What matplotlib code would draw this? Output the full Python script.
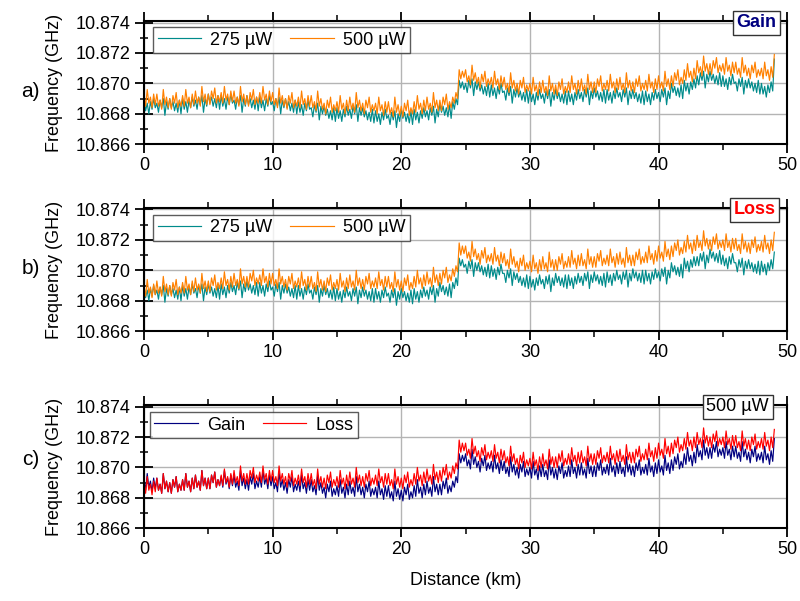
import numpy as np
import matplotlib
matplotlib.use('Agg')
import matplotlib.pyplot as plt
from matplotlib.ticker import MultipleLocator, FormatStrFormatter

plt.rcParams['font.family'] = ['Liberation Sans', 'DejaVu Sans']

# distance samples every 0.125 km, 0 .. 49 km
distance_km = np.linspace(0, 49, 393)

# traces in MHz above 10.866 GHz (8 samples per km, one km per row)
gain_275 = [
    2.9, 2.2, 2.7, 2.0, 2.8, 2.3, 3.0, 2.4,  2.7, 2.1, 2.9, 2.4, 3.0, 1.9, 2.8, 2.3,
    3.0, 2.4, 2.8, 2.2, 2.7, 2.1, 2.9, 2.0,  3.0, 2.3, 2.8, 2.1, 2.9, 2.4, 3.1, 2.5,
    2.9, 2.3, 3.1, 2.6, 3.2, 2.1, 3.0, 2.5,  3.3, 2.7, 3.1, 2.5, 3.0, 2.4, 3.2, 2.3,
    3.2, 2.5, 3.0, 2.3, 3.1, 2.6, 3.3, 2.7,  2.9, 2.3, 3.1, 2.6, 3.2, 2.1, 3.0, 2.5,
    3.2, 2.6, 3.0, 2.4, 2.9, 2.3, 3.1, 2.2,  3.1, 2.4, 2.9, 2.2, 3.0, 2.5, 3.2, 2.6,
    2.8, 2.2, 3.0, 2.5, 3.1, 2.0, 2.9, 2.4,  3.0, 2.4, 2.8, 2.2, 2.7, 2.1, 2.9, 2.0,
    2.8, 2.1, 2.6, 1.9, 2.7, 2.2, 2.9, 2.3,  2.4, 1.8, 2.6, 2.1, 2.7, 1.6, 2.5, 2.0,
    2.5, 1.9, 2.3, 1.7, 2.2, 1.6, 2.4, 1.5,  2.4, 1.7, 2.2, 1.5, 2.3, 1.8, 2.5, 1.9,
    2.3, 1.7, 2.5, 2.0, 2.6, 1.5, 2.4, 1.9,  2.4, 1.8, 2.2, 1.6, 2.1, 1.5, 2.3, 1.4,
    2.2, 1.5, 2.0, 1.3, 2.1, 1.6, 2.3, 1.7,  1.9, 1.3, 2.1, 1.6, 2.2, 1.1, 2.0, 1.5,
    2.3, 1.7, 2.1, 1.5, 2.0, 1.4, 2.2, 1.3,  2.3, 1.6, 2.1, 1.4, 2.2, 1.7, 2.4, 1.8,
    2.2, 1.6, 2.4, 1.9, 2.5, 1.4, 2.3, 1.8,  2.7, 2.1, 2.5, 1.9, 2.4, 1.8, 2.6, 1.7,
    2.8, 2.3, 3.0, 2.6, 4.2, 3.7, 4.1, 3.6,  4.0, 3.4, 4.2, 3.7, 4.3, 3.2, 4.1, 3.6,
    4.1, 3.5, 3.9, 3.3, 3.8, 3.2, 4.0, 3.1,  3.9, 3.2, 3.7, 3.0, 3.8, 3.3, 4.0, 3.4,
    3.5, 2.9, 3.7, 3.2, 3.8, 2.7, 3.6, 3.1,  3.7, 3.1, 3.5, 2.9, 3.4, 2.8, 3.6, 2.7,
    3.5, 2.8, 3.3, 2.6, 3.4, 2.9, 3.6, 3.0,  3.3, 2.7, 3.5, 3.0, 3.6, 2.5, 3.4, 2.9,
    3.6, 3.0, 3.4, 2.8, 3.3, 2.7, 3.5, 2.6,  3.5, 2.8, 3.3, 2.6, 3.4, 2.9, 3.6, 3.0,
    3.4, 2.8, 3.6, 3.1, 3.7, 2.6, 3.5, 3.0,  3.7, 3.1, 3.5, 2.9, 3.4, 2.8, 3.6, 2.7,
    3.6, 2.9, 3.4, 2.7, 3.5, 3.0, 3.7, 3.1,  3.4, 2.8, 3.6, 3.1, 3.7, 2.6, 3.5, 3.0,
    3.6, 3.0, 3.4, 2.8, 3.3, 2.7, 3.5, 2.6,  3.5, 2.8, 3.3, 2.6, 3.4, 2.9, 3.6, 3.0,
    3.4, 2.8, 3.6, 3.1, 3.7, 2.6, 3.5, 3.0,  4.0, 3.4, 3.8, 3.2, 3.7, 3.1, 3.9, 3.0,
    4.2, 3.5, 4.0, 3.3, 4.1, 3.6, 4.3, 3.7,  4.5, 3.9, 4.7, 4.2, 4.8, 3.7, 4.6, 4.1,
    4.8, 4.2, 4.6, 4.0, 4.5, 3.9, 4.7, 3.8,  4.5, 3.8, 4.3, 3.6, 4.4, 3.9, 4.6, 4.0,
    4.1, 3.5, 4.3, 3.8, 4.4, 3.3, 4.2, 3.7,  4.3, 3.7, 4.1, 3.5, 4.0, 3.4, 4.2, 3.3,
    4.0, 3.3, 3.8, 3.1, 3.9, 3.4, 4.1, 3.5,
    5.6,
]
gain_500 = [
    3.2, 2.5, 3.6, 2.7, 3.1, 2.4, 3.3, 2.6,  3.3, 2.5, 2.9, 2.3, 3.6, 2.6, 3.1, 2.4,
    3.0, 2.3, 3.2, 2.7, 3.4, 2.4, 2.9, 2.5,  3.2, 2.5, 3.6, 2.7, 3.1, 2.4, 3.3, 2.6,
    3.5, 2.7, 3.1, 2.5, 3.8, 2.8, 3.3, 2.6,  3.3, 2.6, 3.5, 3.0, 3.7, 2.7, 3.2, 2.8,
    3.4, 2.7, 3.8, 2.9, 3.3, 2.6, 3.5, 2.8,  3.5, 2.7, 3.1, 2.5, 3.8, 2.8, 3.3, 2.6,
    3.2, 2.5, 3.4, 2.9, 3.6, 2.6, 3.1, 2.7,  3.4, 2.7, 3.8, 2.9, 3.3, 2.6, 3.5, 2.8,
    3.4, 2.6, 3.0, 2.4, 3.7, 2.7, 3.2, 2.5,  3.0, 2.3, 3.2, 2.7, 3.4, 2.4, 2.9, 2.5,
    3.1, 2.4, 3.5, 2.6, 3.0, 2.3, 3.2, 2.5,  3.2, 2.4, 2.8, 2.2, 3.5, 2.5, 3.0, 2.3,
    2.7, 2.0, 2.9, 2.4, 3.1, 2.1, 2.6, 2.2,  2.8, 2.1, 3.2, 2.3, 2.7, 2.0, 2.9, 2.2,
    3.1, 2.3, 2.7, 2.1, 3.4, 2.4, 2.9, 2.2,  2.7, 2.0, 2.9, 2.4, 3.1, 2.1, 2.6, 2.2,
    2.7, 2.0, 3.1, 2.2, 2.6, 1.9, 2.8, 2.1,  2.8, 2.0, 2.4, 1.8, 3.1, 2.1, 2.6, 1.9,
    2.5, 1.8, 2.7, 2.2, 2.9, 1.9, 2.4, 2.0,  2.8, 2.1, 3.2, 2.3, 2.7, 2.0, 2.9, 2.2,
    3.1, 2.3, 2.7, 2.1, 3.4, 2.4, 2.9, 2.2,  2.9, 2.2, 3.1, 2.6, 3.3, 2.3, 2.8, 2.4,
    3.1, 2.7, 3.4, 3.0, 4.9, 4.3, 4.8, 4.4,  4.9, 4.1, 4.5, 3.9, 5.2, 4.2, 4.7, 4.0,
    4.4, 3.7, 4.6, 4.1, 4.8, 3.8, 4.3, 3.9,  4.4, 3.7, 4.8, 3.9, 4.3, 3.6, 4.5, 3.8,
    4.4, 3.6, 4.0, 3.4, 4.7, 3.7, 4.2, 3.5,  4.0, 3.3, 4.2, 3.7, 4.4, 3.4, 3.9, 3.5,
    4.0, 3.3, 4.4, 3.5, 3.9, 3.2, 4.1, 3.4,  4.2, 3.4, 3.8, 3.2, 4.5, 3.5, 4.0, 3.3,
    3.9, 3.2, 4.1, 3.6, 4.3, 3.3, 3.8, 3.4,  4.1, 3.4, 4.5, 3.6, 4.0, 3.3, 4.2, 3.5,
    4.3, 3.5, 3.9, 3.3, 4.6, 3.6, 4.1, 3.4,  4.1, 3.4, 4.3, 3.8, 4.5, 3.5, 4.0, 3.6,
    4.2, 3.5, 4.6, 3.7, 4.1, 3.4, 4.3, 3.6,  4.4, 3.6, 4.0, 3.4, 4.7, 3.7, 4.2, 3.5,
    4.1, 3.4, 4.3, 3.8, 4.5, 3.5, 4.0, 3.6,  4.2, 3.5, 4.6, 3.7, 4.1, 3.4, 4.3, 3.6,
    4.5, 3.7, 4.1, 3.5, 4.8, 3.8, 4.3, 3.6,  4.5, 3.8, 4.7, 4.2, 4.9, 3.9, 4.4, 4.0,
    4.9, 4.2, 5.3, 4.4, 4.8, 4.1, 5.0, 4.3,  5.5, 4.7, 5.1, 4.5, 5.8, 4.8, 5.3, 4.6,
    5.3, 4.6, 5.5, 5.0, 5.7, 4.7, 5.2, 4.8,  5.3, 4.6, 5.7, 4.8, 5.2, 4.5, 5.4, 4.7,
    5.4, 4.6, 5.0, 4.4, 5.7, 4.7, 5.2, 4.5,  5.0, 4.3, 5.2, 4.7, 5.4, 4.4, 4.9, 4.5,
    5.0, 4.3, 5.4, 4.5, 4.9, 4.2, 5.1, 4.4,
    5.9,
]
loss_275 = [
    2.9, 2.2, 2.7, 2.0, 2.8, 2.3, 3.0, 2.4,  2.7, 2.1, 2.9, 2.4, 3.0, 1.9, 2.8, 2.3,
    3.0, 2.4, 2.8, 2.2, 2.7, 2.1, 2.9, 2.0,  3.0, 2.3, 2.8, 2.1, 2.9, 2.4, 3.1, 2.5,
    2.8, 2.2, 3.0, 2.5, 3.1, 2.0, 2.9, 2.4,  3.1, 2.5, 2.9, 2.3, 2.8, 2.2, 3.0, 2.1,
    3.1, 2.4, 2.9, 2.2, 3.0, 2.5, 3.2, 2.6,  3.0, 2.4, 3.2, 2.7, 3.3, 2.2, 3.1, 2.6,
    3.3, 2.7, 3.1, 2.5, 3.0, 2.4, 3.2, 2.3,  3.2, 2.5, 3.0, 2.3, 3.1, 2.6, 3.3, 2.7,
    2.9, 2.3, 3.1, 2.6, 3.2, 2.1, 3.0, 2.5,  3.1, 2.5, 2.9, 2.3, 2.8, 2.2, 3.0, 2.1,
    3.0, 2.3, 2.8, 2.1, 2.9, 2.4, 3.1, 2.5,  2.7, 2.1, 2.9, 2.4, 3.0, 1.9, 2.8, 2.3,
    3.0, 2.4, 2.8, 2.2, 2.7, 2.1, 2.9, 2.0,  2.8, 2.1, 2.6, 1.9, 2.7, 2.2, 2.9, 2.3,
    2.6, 2.0, 2.8, 2.3, 2.9, 1.8, 2.7, 2.2,  2.9, 2.3, 2.7, 2.1, 2.6, 2.0, 2.8, 1.9,
    2.8, 2.1, 2.6, 1.9, 2.7, 2.2, 2.9, 2.3,  2.5, 1.9, 2.7, 2.2, 2.8, 1.7, 2.6, 2.1,
    2.8, 2.2, 2.6, 2.0, 2.5, 1.9, 2.7, 1.8,  2.8, 2.1, 2.6, 1.9, 2.7, 2.2, 2.9, 2.3,
    2.7, 2.1, 2.9, 2.4, 3.0, 1.9, 2.8, 2.3,  3.2, 2.6, 3.0, 2.4, 2.9, 2.3, 3.1, 2.2,
    3.2, 2.8, 3.5, 3.0, 4.8, 4.3, 4.7, 4.2,  4.4, 3.8, 4.6, 4.1, 4.7, 3.6, 4.5, 4.0,
    4.5, 3.9, 4.3, 3.7, 4.2, 3.6, 4.4, 3.5,  4.3, 3.6, 4.1, 3.4, 4.2, 3.7, 4.4, 3.8,
    3.8, 3.2, 4.0, 3.5, 4.1, 3.0, 3.9, 3.4,  3.8, 3.2, 3.6, 3.0, 3.5, 2.9, 3.7, 2.8,
    3.6, 2.9, 3.4, 2.7, 3.5, 3.0, 3.7, 3.1,  3.4, 2.8, 3.6, 3.1, 3.7, 2.6, 3.5, 3.0,
    3.8, 3.2, 3.6, 3.0, 3.5, 2.9, 3.7, 2.8,  3.7, 3.0, 3.5, 2.8, 3.6, 3.1, 3.8, 3.2,
    3.6, 3.0, 3.8, 3.3, 3.9, 2.8, 3.7, 3.2,  3.9, 3.3, 3.7, 3.1, 3.6, 3.0, 3.8, 2.9,
    3.9, 3.2, 3.7, 3.0, 3.8, 3.3, 4.0, 3.4,  3.7, 3.1, 3.9, 3.4, 4.0, 2.9, 3.8, 3.3,
    4.1, 3.5, 3.9, 3.3, 3.8, 3.2, 4.0, 3.1,  4.0, 3.3, 3.8, 3.1, 3.9, 3.4, 4.1, 3.5,
    3.9, 3.3, 4.1, 3.6, 4.2, 3.1, 4.0, 3.5,  4.5, 3.9, 4.3, 3.7, 4.2, 3.6, 4.4, 3.5,
    4.8, 4.1, 4.6, 3.9, 4.7, 4.2, 4.9, 4.3,  4.9, 4.3, 5.1, 4.6, 5.2, 4.1, 5.0, 4.5,
    5.4, 4.8, 5.2, 4.6, 5.1, 4.5, 5.3, 4.4,  5.0, 4.3, 4.8, 4.1, 4.9, 4.4, 5.1, 4.5,
    4.5, 3.9, 4.7, 4.2, 4.8, 3.7, 4.6, 4.1,  4.7, 4.1, 4.5, 3.9, 4.4, 3.8, 4.6, 3.7,
    4.6, 3.9, 4.4, 3.7, 4.5, 4.0, 4.7, 4.1,
    5.2,
]
loss_500 = [
    3.0, 2.3, 3.4, 2.5, 2.9, 2.2, 3.1, 2.4,  3.3, 2.5, 2.9, 2.3, 3.6, 2.6, 3.1, 2.4,
    3.0, 2.3, 3.2, 2.7, 3.4, 2.4, 2.9, 2.5,  3.2, 2.5, 3.6, 2.7, 3.1, 2.4, 3.3, 2.6,
    3.5, 2.7, 3.1, 2.5, 3.8, 2.8, 3.3, 2.6,  3.3, 2.6, 3.5, 3.0, 3.7, 2.7, 3.2, 2.8,
    3.5, 2.8, 3.9, 3.0, 3.4, 2.7, 3.6, 2.9,  3.8, 3.0, 3.4, 2.8, 4.1, 3.1, 3.6, 2.9,
    3.6, 2.9, 3.8, 3.3, 4.0, 3.0, 3.5, 3.1,  3.7, 3.0, 4.1, 3.2, 3.6, 2.9, 3.8, 3.1,
    3.8, 3.0, 3.4, 2.8, 4.1, 3.1, 3.6, 2.9,  3.4, 2.7, 3.6, 3.1, 3.8, 2.8, 3.3, 2.9,
    3.5, 2.8, 3.9, 3.0, 3.4, 2.7, 3.6, 2.9,  3.6, 2.8, 3.2, 2.6, 3.9, 2.9, 3.4, 2.7,
    3.3, 2.6, 3.5, 3.0, 3.7, 2.7, 3.2, 2.8,  3.4, 2.7, 3.8, 2.9, 3.3, 2.6, 3.5, 2.8,
    3.7, 2.9, 3.3, 2.7, 4.0, 3.0, 3.5, 2.8,  3.4, 2.7, 3.6, 3.1, 3.8, 2.8, 3.3, 2.9,
    3.5, 2.8, 3.9, 3.0, 3.4, 2.7, 3.6, 2.9,  3.6, 2.8, 3.2, 2.6, 3.9, 2.9, 3.4, 2.7,
    3.3, 2.6, 3.5, 3.0, 3.7, 2.7, 3.2, 2.8,  3.6, 2.9, 4.0, 3.1, 3.5, 2.8, 3.7, 3.0,
    3.9, 3.1, 3.5, 2.9, 4.2, 3.2, 3.7, 3.0,  3.8, 3.1, 4.0, 3.5, 4.2, 3.2, 3.7, 3.3,
    4.1, 3.6, 4.3, 3.9, 5.8, 5.0, 5.6, 5.1,  5.6, 4.8, 5.2, 4.6, 5.9, 4.9, 5.4, 4.7,
    5.1, 4.4, 5.3, 4.8, 5.5, 4.5, 5.0, 4.6,  5.1, 4.4, 5.5, 4.6, 5.0, 4.3, 5.2, 4.5,
    5.1, 4.3, 4.7, 4.1, 5.4, 4.4, 4.9, 4.2,  4.6, 3.9, 4.8, 4.3, 5.0, 4.0, 4.5, 4.1,
    4.6, 3.9, 5.0, 4.1, 4.5, 3.8, 4.7, 4.0,  4.9, 4.1, 4.5, 3.9, 5.2, 4.2, 4.7, 4.0,
    4.7, 4.0, 4.9, 4.4, 5.1, 4.1, 4.6, 4.2,  4.9, 4.2, 5.3, 4.4, 4.8, 4.1, 5.0, 4.3,
    5.1, 4.3, 4.7, 4.1, 5.4, 4.4, 4.9, 4.2,  4.9, 4.2, 5.1, 4.6, 5.3, 4.3, 4.8, 4.4,
    5.0, 4.3, 5.4, 4.5, 4.9, 4.2, 5.1, 4.4,  5.2, 4.4, 4.8, 4.2, 5.5, 4.5, 5.0, 4.3,
    5.0, 4.3, 5.2, 4.7, 5.4, 4.4, 4.9, 4.5,  5.2, 4.5, 5.6, 4.7, 5.1, 4.4, 5.3, 4.6,
    5.6, 4.8, 5.2, 4.6, 5.9, 4.9, 5.4, 4.7,  5.6, 4.9, 5.8, 5.3, 6.0, 5.0, 5.5, 5.1,
    5.9, 5.2, 6.3, 5.4, 5.8, 5.1, 6.0, 5.3,  6.3, 5.5, 5.9, 5.3, 6.6, 5.6, 6.1, 5.4,
    6.0, 5.3, 6.2, 5.7, 6.4, 5.4, 5.9, 5.5,  6.0, 5.3, 6.4, 5.5, 5.9, 5.2, 6.1, 5.4,
    6.1, 5.3, 5.7, 5.1, 6.4, 5.4, 5.9, 5.2,  5.8, 5.1, 6.0, 5.5, 6.2, 5.2, 5.7, 5.3,
    5.9, 5.2, 6.3, 5.4, 5.8, 5.1, 6.0, 5.3,
    6.5,
]

BASE_GHZ = 10.866

def ghz(mhz_list):
    return BASE_GHZ + np.asarray(mhz_list) / 1000.0

panels = [
    # (letter, [(label, values, color)], corner text, corner color, corner bold, legend anchor)
    ('a)', [('275 \u00b5W', gain_275, '#008b8b'), ('500 \u00b5W', gain_500, '#ff8000')],
     'Gain', '#000080', True, (0.014, 0.951)),
    ('b)', [('275 \u00b5W', loss_275, '#008b8b'), ('500 \u00b5W', loss_500, '#ff8000')],
     'Loss', '#ff0000', True, (0.014, 0.943)),
    ('c)', [('Gain', gain_500, '#000080'), ('Loss', loss_500, '#ff0000')],
     '500 \u00b5W', 'black', False, (0.009, 0.943)),
]
corner_x = [0.952, 0.949, 0.923]
letter_y = [0.847, 0.554, 0.235]

fig = plt.figure(figsize=(8.0, 6.01), dpi=100)
ax_bottoms = [0.760, 0.449, 0.121]
axes = []
for i, (letter, series, corner, ccol, cbold, leg_anchor) in enumerate(panels):
    ax = fig.add_axes([0.18, ax_bottoms[i], 0.804, 0.205])
    axes.append(ax)
    for label, vals, col in series:
        ax.plot(distance_km, ghz(vals), color=col, lw=0.85, label=label)
    ax.set_xlim(0, 50)
    ax.set_ylim(10.866, 10.8741)
    ax.xaxis.set_major_locator(MultipleLocator(10))
    ax.xaxis.set_minor_locator(MultipleLocator(5))
    ax.yaxis.set_major_locator(MultipleLocator(0.002))
    ax.yaxis.set_minor_locator(MultipleLocator(0.001))
    ax.yaxis.set_major_formatter(FormatStrFormatter('%.3f'))
    ax.grid(True, which='major', color='#b4b4b4', lw=1.0)
    ax.set_axisbelow(True)
    ax.tick_params(axis='x', which='both', direction='out', top=True, labelsize=13, pad=3)
    ax.tick_params(axis='x', which='major', length=6.5, width=1.3)
    ax.tick_params(axis='x', which='minor', length=4.5, width=1.1)
    ax.tick_params(axis='y', which='both', direction='inout', labelsize=13, pad=3)
    ax.tick_params(axis='y', which='major', length=13, width=1.3)
    ax.tick_params(axis='y', which='minor', length=6, width=1.1)
    for sp in ax.spines.values():
        sp.set_linewidth(1.5)
    ax.set_ylabel('Frequency (GHz)', fontsize=13, labelpad=9)

    leg = ax.legend(loc='upper left', bbox_to_anchor=leg_anchor, borderaxespad=0,
                    ncol=2, fontsize=13, frameon=True, fancybox=False,
                    handlelength=2.4, columnspacing=1.0, borderpad=0.25,
                    handletextpad=0.5)
    leg.get_frame().set_edgecolor('#333333')
    leg.get_frame().set_linewidth(1.0)

    ax.text(corner_x[i], 0.985, corner, transform=ax.transAxes, fontsize=13,
            color=ccol, fontweight='bold' if cbold else 'normal',
            ha='center', va='center', zorder=10,
            bbox=dict(boxstyle='square,pad=0.2', facecolor='white',
                      edgecolor='#333333', lw=1.0))

    fig.text(0.038, letter_y[i], letter, fontsize=15, ha='center', va='center')

axes[-1].set_xlabel('Distance (km)', fontsize=13, labelpad=10)

fig.savefig('out.png', dpi=100)
